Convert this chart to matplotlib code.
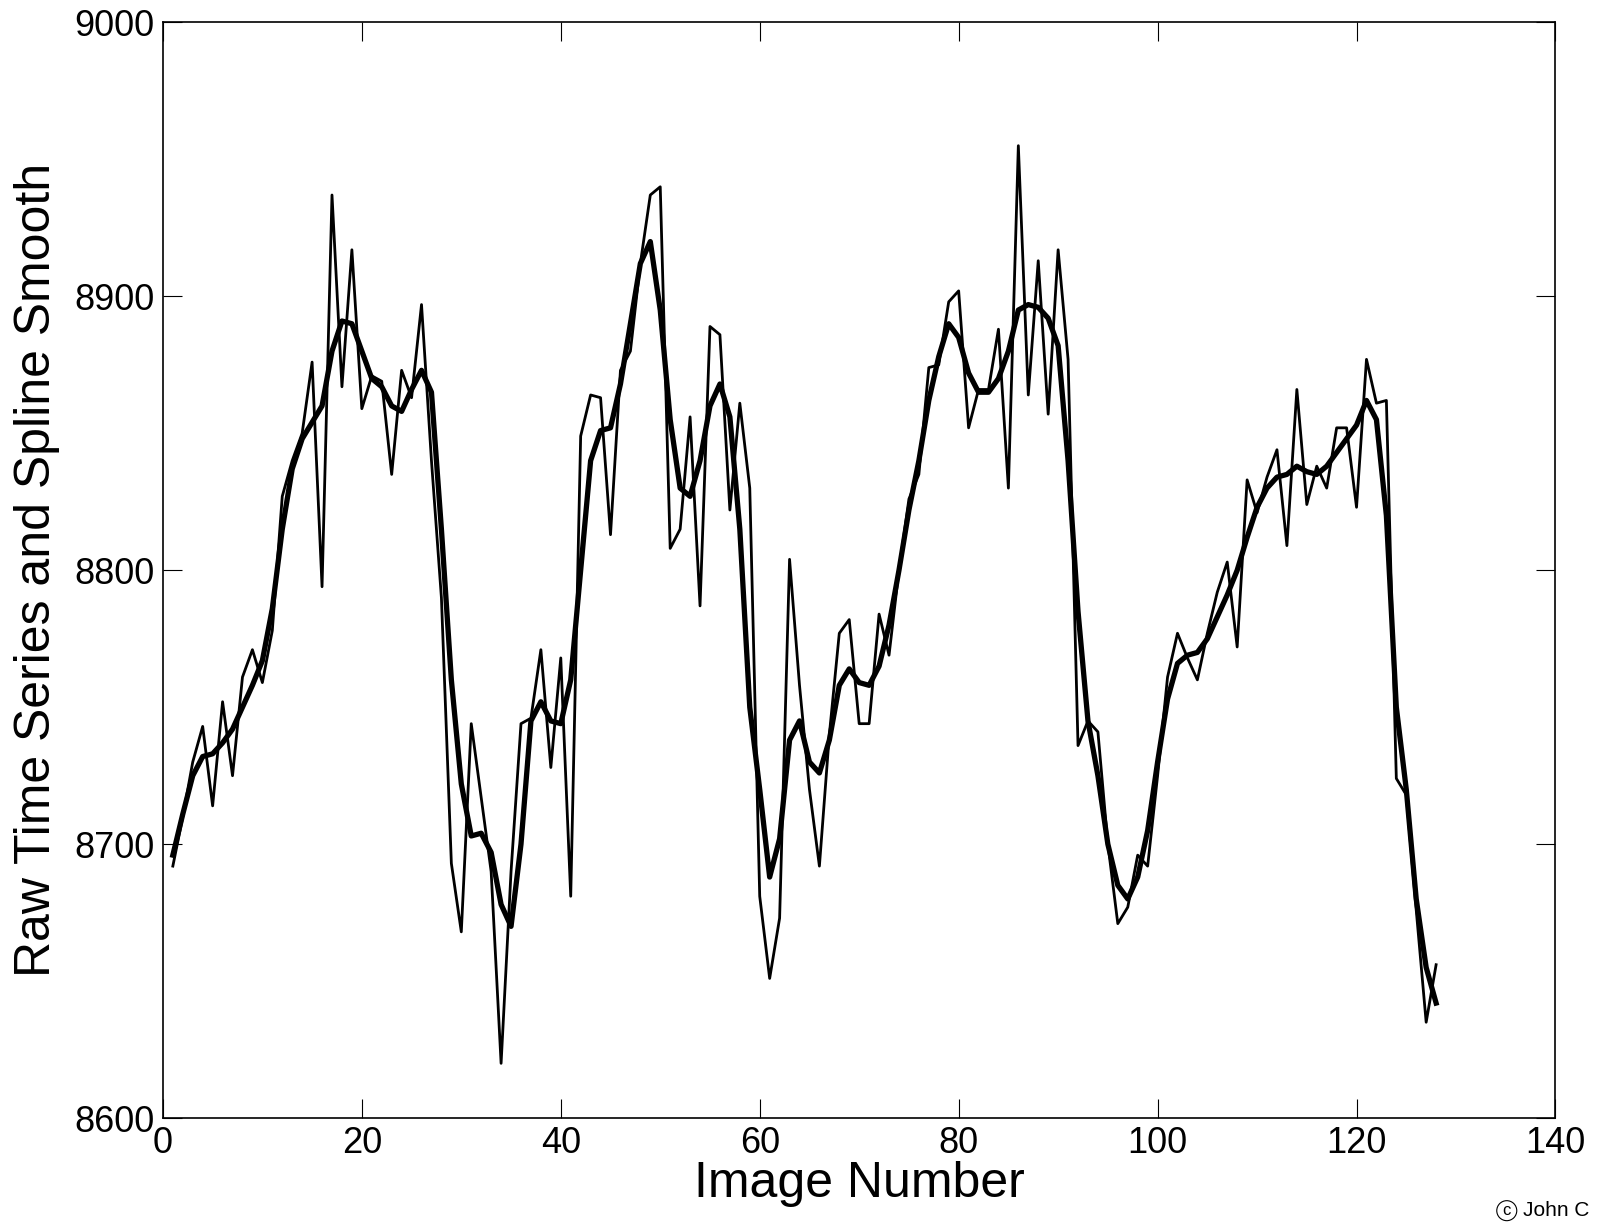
import matplotlib
matplotlib.use("Agg")
import matplotlib.pyplot as plt
import numpy as np

image_number = list(range(1, 129))

raw_series = [
    8692, 8710, 8730, 8743, 8714, 8752, 8725, 8761, 8771, 8759,
    8778, 8827, 8840, 8850, 8876, 8794, 8937, 8867, 8917, 8859,
    8871, 8869, 8835, 8873, 8863, 8897, 8840, 8790, 8693, 8668,
    8744, 8717, 8690, 8620, 8690, 8744, 8746, 8771, 8728, 8768,
    8681, 8849, 8864, 8863, 8813, 8873, 8880, 8912, 8937, 8940,
    8808, 8815, 8856, 8787, 8889, 8886, 8822, 8861, 8830, 8681,
    8651, 8673, 8804, 8758, 8720, 8692, 8740, 8777, 8782, 8744,
    8744, 8784, 8769, 8800, 8826, 8835, 8874, 8875, 8898, 8902,
    8852, 8866, 8866, 8888, 8830, 8955, 8864, 8913, 8857, 8917,
    8877, 8736, 8745, 8741, 8700, 8671, 8677, 8696, 8692, 8725,
    8761, 8777, 8768, 8760, 8777, 8792, 8803, 8772, 8833, 8821,
    8834, 8844, 8809, 8866, 8824, 8838, 8830, 8852, 8852, 8823,
    8877, 8861, 8862, 8724, 8718, 8676, 8635, 8656,
]

spline_smooth = [
    8696, 8711, 8725, 8732, 8733, 8737, 8742, 8750, 8758, 8767,
    8786, 8815, 8837, 8848, 8854, 8860, 8880, 8891, 8890, 8880,
    8870, 8867, 8860, 8858, 8866, 8873, 8865, 8815, 8760, 8722,
    8703, 8704, 8697, 8678, 8670, 8700, 8745, 8752, 8745, 8744,
    8760, 8800, 8840, 8851, 8852, 8868, 8890, 8912, 8920, 8895,
    8855, 8830, 8827, 8840, 8860, 8868, 8856, 8815, 8750, 8720,
    8688, 8702, 8738, 8745, 8730, 8726, 8738, 8758, 8764, 8759,
    8758, 8765, 8780, 8800, 8822, 8840, 8862, 8878, 8890, 8885,
    8872, 8865, 8865, 8870, 8880, 8895, 8897, 8896, 8892, 8882,
    8840, 8785, 8745, 8725, 8700, 8685, 8680, 8688, 8705, 8730,
    8753, 8766, 8769, 8770, 8775, 8783, 8791, 8800, 8812, 8823,
    8830, 8834, 8835, 8838, 8836, 8835, 8838, 8843, 8848, 8853,
    8862, 8855, 8820, 8750, 8720, 8680, 8655, 8642,
]

x_ticks = [0, 20, 40, 60, 80, 100, 120, 140]
y_ticks = [8600, 8700, 8800, 8900, 9000]

plt.rcParams['font.family'] = ['Liberation Sans', 'DejaVu Sans']

fig = plt.figure(figsize=(15.97, 12.26), dpi=100)
ax = fig.add_axes([0.102, 0.088, 0.872, 0.8937])

ax.plot(image_number, raw_series, color='black', linewidth=2.0)
ax.plot(image_number, spline_smooth, color='black', linewidth=3.8)

ax.set_xlim(0, 140)
ax.set_ylim(8600, 9000)
ax.set_xticks(x_ticks)
ax.set_yticks(y_ticks)
ax.tick_params(direction='in', length=14, width=0.8, labelsize=26,
               top=True, right=True, pad=6)
for s in ax.spines.values():
    s.set_linewidth(1.2)

ax.set_xlabel('Image Number', fontsize=36, labelpad=0)
ax.set_ylabel('Raw Time Series and Spline Smooth', fontsize=36, labelpad=10)

# copyright mark: circled "c" followed by the (edge-clipped) name
fig.text(0.9435, 0.0125, 'c', fontsize=12, ha='center', va='center',
         bbox=dict(boxstyle='circle,pad=0.15', fc='white', ec='black', lw=0.8))
fig.text(0.9535, 0.0125, 'John C', fontsize=15, ha='left', va='center')

fig.savefig('out.png', dpi=100)
